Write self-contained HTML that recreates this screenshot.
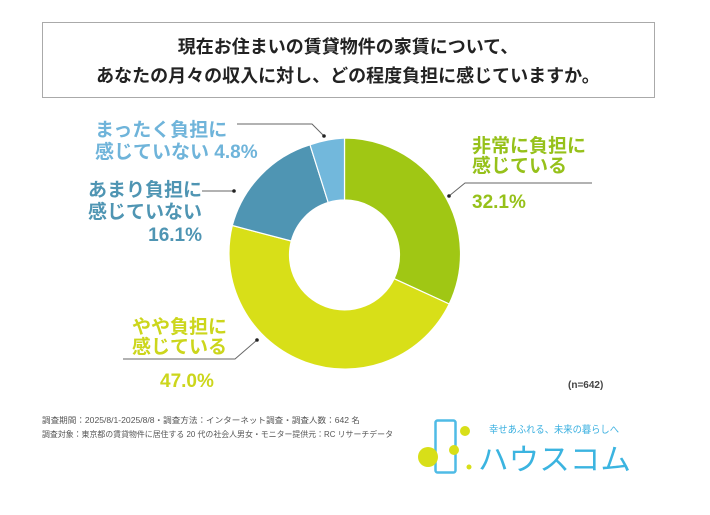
<!DOCTYPE html>
<html><head><meta charset="utf-8"><style>
html,body{margin:0;padding:0;background:#fff;}
body{width:710px;height:510px;overflow:hidden;font-family:"Liberation Sans","Noto Sans CJK JP",sans-serif;}
</style></head><body>
<svg width="710" height="510" viewBox="0 0 710 510" xmlns="http://www.w3.org/2000/svg" font-family="Liberation Sans, Noto Sans CJK JP, sans-serif">
<rect x="42.5" y="22.5" width="612" height="75" fill="#fff" stroke="#aaa" stroke-width="1"/>
<text x="348" y="53" text-anchor="middle" font-size="18" font-weight="bold" fill="#222">現在お住まいの賃貸物件の家賃について、</text>
<text x="348" y="82" text-anchor="middle" font-size="18" font-weight="bold" fill="#222">あなたの月々の収入に対し、どの程度負担に感じていますか。</text>
<g stroke="#fff" stroke-width="1.2">
<path d="M344.5,138 A116,116 0 0 1 449.2,304.0 L394.1,278.7 A55,55 0 0 0 344.5,200 Z" fill="#a0c714"/>
<path d="M449.2,304.0 A116,116 0 0 1 232.3,225.5 L291.3,241.0 A55,55 0 0 0 394.1,278.7 Z" fill="#d8df18"/>
<path d="M232.3,225.5 A116,116 0 0 1 310.0,144.8 L328.2,202.5 A55,55 0 0 0 291.3,241.0 Z" fill="#4f95b3"/>
<path d="M310.0,144.8 A116,116 0 0 1 344.5,138 L344.5,200 A55,55 0 0 0 328.2,202.5 Z" fill="#72b8dc"/>
</g>
<g stroke="#666" stroke-width="1" fill="none">
<polyline points="592,183 465,183 449,196"/>
<polyline points="123,359 235,359 257,340"/>
<polyline points="202,191 234,191"/>
<polyline points="237,124 312,124 324,136"/>
</g>
<g fill="#222"><circle cx="449" cy="196" r="1.8"/><circle cx="257" cy="340" r="1.8"/><circle cx="234" cy="191" r="1.8"/><circle cx="324" cy="136" r="1.8"/></g>
<g font-weight="bold" font-size="19">
<text x="472" y="152" fill="#96c11a">非常に負担に</text>
<text x="472" y="172" fill="#96c11a">感じている</text>
<text x="472" y="208" fill="#96c11a">32.1%</text>
<text x="132" y="333" fill="#ccd61c">やや負担に</text>
<text x="132" y="353" fill="#ccd61c">感じている</text>
<text x="160" y="387" fill="#ccd61c">47.0%</text>
<text x="202" y="196" text-anchor="end" fill="#4f95b3">あまり負担に</text>
<text x="202" y="218" text-anchor="end" fill="#4f95b3">感じていない</text>
<text x="202" y="241" text-anchor="end" fill="#4f95b3">16.1%</text>
<text x="95" y="136" fill="#6fb4da">まったく負担に</text>
<text x="95" y="158" fill="#6fb4da">感じていない 4.8%</text>
</g>
<text x="568" y="388" font-size="10" font-weight="bold" fill="#444">(n=642)</text>
<text x="42" y="423" font-size="8" fill="#555" textLength="318" lengthAdjust="spacingAndGlyphs">調査期間：2025/8/1-2025/8/8・調査方法：インターネット調査・調査人数：642 名</text>
<text x="42" y="437" font-size="8" fill="#555" textLength="351" lengthAdjust="spacingAndGlyphs">調査対象：東京都の賃貸物件に居住する 20 代の社会人男女・モニター提供元：RC リサーチデータ</text>
<rect x="435.5" y="420.5" width="20" height="52" rx="2" fill="none" stroke="#4fbbe6" stroke-width="2.5"/>
<circle cx="465" cy="431" r="5" fill="#d8df18"/>
<circle cx="428" cy="457" r="10" fill="#d8df18"/>
<circle cx="454" cy="450" r="5" fill="#d8df18"/>
<circle cx="469" cy="467" r="2.5" fill="#d8df18"/>
<text x="489" y="433" font-size="10" fill="#3bb0e0" textLength="130" lengthAdjust="spacingAndGlyphs">幸せあふれる、未来の暮らしへ</text>
<text x="478" y="470" font-size="30" fill="#3bb4e0" textLength="153" lengthAdjust="spacingAndGlyphs">ハウスコム</text>
</svg>
</body></html>
